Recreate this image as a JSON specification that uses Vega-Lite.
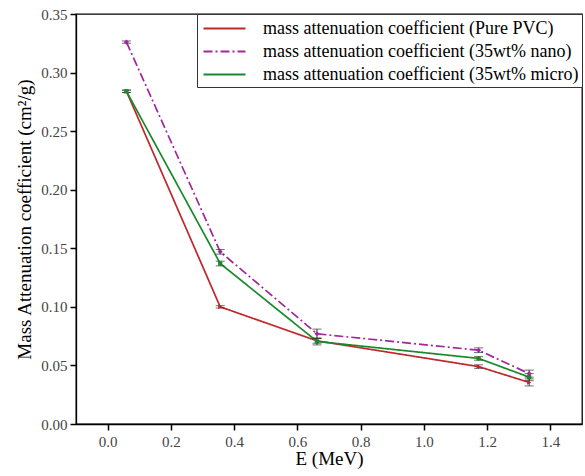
{
  "$schema": "https://vega.github.io/schema/vega-lite/v6.json",
  "width": 506,
  "height": 410,
  "autosize": "none",
  "padding": {"left": 76, "top": 14, "right": 3, "bottom": 52},
  "background": "white",
  "config": {
    "font": "Liberation Serif",
    "view": {"stroke": "black", "strokeWidth": 1.3},
    "axis": {"domainColor": "black", "labelColor": "#444", "labelFont": "Liberation Serif", "titleFont": "Liberation Serif", "labelFontSize": 15, "titleFontSize": 19, "titleFontWeight": "normal", "grid": false, "domainWidth": 1.3}
  },
  "datasets": {
    "pts": [
      {"E": 0.0595, "mu": 0.284, "err": 0.001, "series": "mass attenuation coefficient (Pure PVC)"},
      {"E": 0.356, "mu": 0.100, "err": 0.001, "series": "mass attenuation coefficient (Pure PVC)"},
      {"E": 0.662, "mu": 0.071, "err": 0.002, "series": "mass attenuation coefficient (Pure PVC)"},
      {"E": 1.173, "mu": 0.049, "err": 0.0015, "series": "mass attenuation coefficient (Pure PVC)"},
      {"E": 1.333, "mu": 0.0355, "err": 0.003, "series": "mass attenuation coefficient (Pure PVC)"},
      {"E": 0.0595, "mu": 0.326, "err": 0.001, "series": "mass attenuation coefficient (35wt% nano)"},
      {"E": 0.356, "mu": 0.147, "err": 0.002, "series": "mass attenuation coefficient (35wt% nano)"},
      {"E": 0.662, "mu": 0.077, "err": 0.004, "series": "mass attenuation coefficient (35wt% nano)"},
      {"E": 1.173, "mu": 0.063, "err": 0.002, "series": "mass attenuation coefficient (35wt% nano)"},
      {"E": 1.333, "mu": 0.043, "err": 0.003, "series": "mass attenuation coefficient (35wt% nano)"},
      {"E": 0.0595, "mu": 0.284, "err": 0.001, "series": "mass attenuation coefficient (35wt% micro)"},
      {"E": 0.356, "mu": 0.137, "err": 0.002, "series": "mass attenuation coefficient (35wt% micro)"},
      {"E": 0.662, "mu": 0.0705, "err": 0.003, "series": "mass attenuation coefficient (35wt% micro)"},
      {"E": 1.173, "mu": 0.056, "err": 0.0015, "series": "mass attenuation coefficient (35wt% micro)"},
      {"E": 1.333, "mu": 0.040, "err": 0.003, "series": "mass attenuation coefficient (35wt% micro)"}
    ]
  },
  "data": {"name": "pts"},
  "transform": [
    {"calculate": "datum.mu - datum.err", "as": "lo"},
    {"calculate": "datum.mu + datum.err", "as": "hi"}
  ],
  "layer": [
    {
      "mark": {"type": "line", "strokeWidth": 1.7},
      "encoding": {
        "x": {"field": "E", "type": "quantitative", "scale": {"domain": [-0.1, 1.5], "nice": false, "zero": false},
          "axis": {"title": "E (MeV)", "values": [0,0.1,0.2,0.3,0.4,0.5,0.6,0.7,0.8,0.9,1.0,1.1,1.2,1.3,1.4,1.5],
            "labelExpr": "round(datum.value*10) % 2 == 0 && datum.value < 1.45 ? format(datum.value, '.1f') : ''",
            "ticks": true, "tickSize": 6, "tickColor": "#000000", "tickWidth": 1.5, "tickOpacity": 1,
            "labelPadding": 4, "titlePadding": 0}},
        "y": {"field": "mu", "type": "quantitative", "scale": {"domain": [0, 0.35], "nice": false},
          "axis": {"title": "Mass Attenuation coefficient (cm²/g)", "values": [0,0.025,0.05,0.075,0.1,0.125,0.15,0.175,0.2,0.225,0.25,0.275,0.3,0.325,0.35],
            "labelExpr": "round(datum.value*40) % 2 == 0 ? format(datum.value, '.2f') : ''",
            "ticks": true, "tickSize": 6, "tickColor": "#000000", "tickWidth": 1.5, "tickOpacity": 1,
            "labelPadding": 3, "titlePadding": 6}},
        "color": {"field": "series", "type": "nominal",
          "scale": {"domain": ["mass attenuation coefficient (Pure PVC)", "mass attenuation coefficient (35wt% nano)", "mass attenuation coefficient (35wt% micro)"], "range": ["#c0272d", "#a3269c", "#188a2b"]},
          "legend": {"title": null, "orient": "top-right", "offset": 0, "labelFontSize": 18, "labelColor": "black", "symbolType": "M-2,0H2", "symbolSize": 441, "symbolStrokeWidth": 1.8, "symbolFillColor": "transparent", "symbolOffset": 13, "labelOffset": 27, "strokeColor": "#333", "fillColor": "white", "padding": 3, "rowPadding": 2, "labelLimit": 600}},
        "strokeDash": {"field": "series", "type": "nominal",
          "scale": {"domain": ["mass attenuation coefficient (Pure PVC)", "mass attenuation coefficient (35wt% nano)", "mass attenuation coefficient (35wt% micro)"], "range": [[1, 0], [9, 3, 2, 3], [1, 0]]},
          "legend": null}
      }
    },
    {
      "mark": {"type": "rule", "color": "#333", "strokeWidth": 1},
      "encoding": {"x": {"field": "E", "type": "quantitative"}, "y": {"field": "lo", "type": "quantitative"}, "y2": {"field": "hi"}}
    },
    {
      "mark": {"type": "tick", "color": "#333", "size": 9, "thickness": 1, "orient": "horizontal"},
      "encoding": {"x": {"field": "E", "type": "quantitative"}, "y": {"field": "lo", "type": "quantitative"}}
    },
    {
      "mark": {"type": "tick", "color": "#333", "size": 9, "thickness": 1, "orient": "horizontal"},
      "encoding": {"x": {"field": "E", "type": "quantitative"}, "y": {"field": "hi", "type": "quantitative"}}
    },
    {
      "transform": [{"filter": "datum.series == 'mass attenuation coefficient (Pure PVC)'"}],
      "mark": {"type": "point", "filled": true, "size": 22, "opacity": 1, "strokeWidth": 0, "shape": "triangle-right", "color": "#c0272d"},
      "encoding": {"x": {"field": "E", "type": "quantitative"}, "y": {"field": "mu", "type": "quantitative"}}
    },
    {
      "transform": [{"filter": "datum.series == 'mass attenuation coefficient (35wt% nano)'"}],
      "mark": {"type": "point", "filled": true, "size": 26, "opacity": 1, "strokeWidth": 0, "shape": "diamond", "color": "#a3269c"},
      "encoding": {"x": {"field": "E", "type": "quantitative"}, "y": {"field": "mu", "type": "quantitative"}}
    },
    {
      "transform": [{"filter": "datum.series == 'mass attenuation coefficient (35wt% micro)'"}],
      "mark": {"type": "point", "filled": true, "size": 18, "opacity": 1, "strokeWidth": 0, "shape": "square", "color": "#188a2b"},
      "encoding": {"x": {"field": "E", "type": "quantitative"}, "y": {"field": "mu", "type": "quantitative"}}
    }
  ]
}
